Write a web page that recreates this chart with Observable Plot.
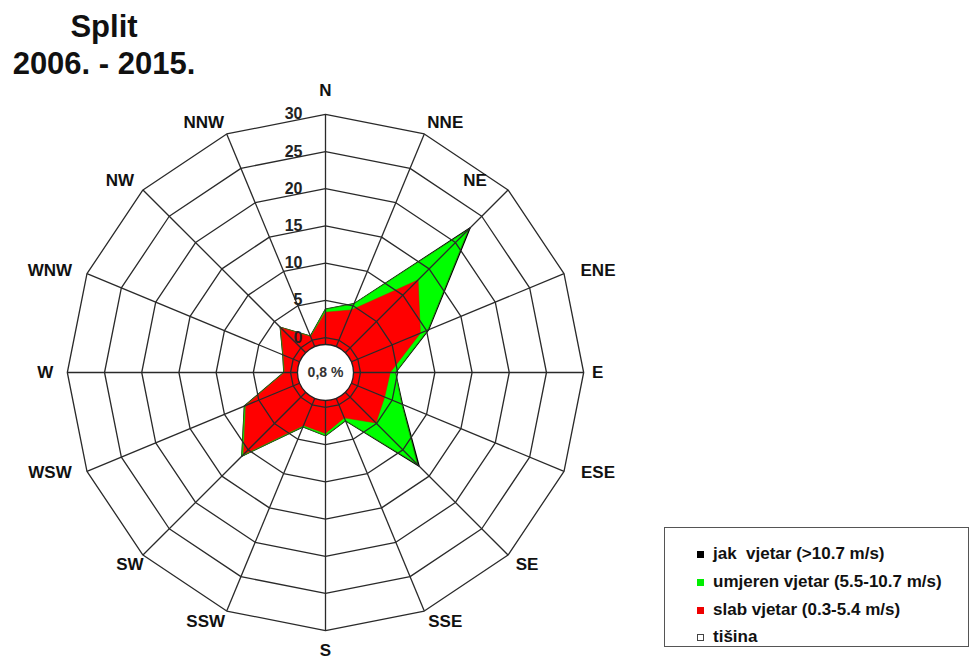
<!DOCTYPE html>
<html><head><meta charset="utf-8">
<script src="https://cdn.jsdelivr.net/npm/d3@7"></script>
<script src="https://cdn.jsdelivr.net/npm/@observablehq/plot@0.6"></script>
<style>
body{margin:0;background:#fff;font-family:"Liberation Sans",Arial,sans-serif;}
#wrap{position:relative;width:972px;height:660px;overflow:hidden;}
#title{position:absolute;left:0;top:8px;width:208px;text-align:center;font-weight:bold;font-size:31px;line-height:37px;color:#111;}
#legend{position:absolute;left:664px;top:527px;width:305px;height:120px;border:1px solid #555;box-sizing:border-box;background:#fff;}
.row{position:absolute;left:0;height:20px;line-height:20px;font-weight:bold;font-size:17px;color:#111;white-space:pre;}
.sw{position:absolute;left:32px;top:7px;width:7px;height:7px;box-sizing:border-box;}
.lbl{position:absolute;left:48px;top:0;}
</style></head><body>
<div id="wrap"><div id="chart"></div>
<div id="title">Split<br>2006. - 2015.</div>
<div id="legend"></div>
</div>
<script>
// ---- data ----
const directions = ["N","NNE","NE","ENE","E","ESE","SE","SSE","S","SSW","SW","WSW","W","WNW","NW","NNW"];
const slab    = [3.4, 4.4, 12.9, 9.1, 4.0, 3.9, 4.9, 1.9, 3.5, 3.0, 10.9, 6.9, 0.8, 1.4, 3.8, 0.5];
const umjeren = [0.4, 0.9, 9.6, 1.1, 0.7, 2.5, 7.9, 0.4, 0.3, 0.2, 0.3, 0.2, 0.1, 0.1, 0.1, 0.1];
const jak     = [0.0, 0.0, 0.3, 0.1, 0.0, 0.1, 0.3, 0.0, 0.0, 0.0, 0.0, 0.0, 0.0, 0.0, 0.0, 0.0];
const ringLevels = [0, 5, 10, 15, 20, 25, 30];
const calmLabel = "0,8 %";
const legendItems = [
  {label: "jak  vjetar (>10.7 m/s)", color: "#000000"},
  {label: "umjeren vjetar (5.5-10.7 m/s)", color: "#00ee00"},
  {label: "slab vjetar (0.3-5.4 m/s)", color: "#ee0000"},
  {label: "tišina", color: "none"}
];

// ---- layout ----
const W = 972, H = 660, CX = 325, CY = 372;
const K = 7.44;     // px per percent
const R0 = 4.7;     // offset of ring 0 from centre (percent units)
const RMAX = 30;
// pixel nudges of direction labels from the outer spoke ends
const labelNudge = [[0,-24],[21,-11],[-33,-9],[34,-3],[14,0],[34,1],[19,9],[21,11],
                    [0,20],[-21,11],[-13,9],[-37,1],[-22,0],[-37,-3],[-23,-9],[-23,-11]];

const ang = i => i * Math.PI / 8;
const px = (i, v) => Math.sin(ang(i)) * (R0 + v);
const py = (i, v) => Math.cos(ang(i)) * (R0 + v);

const c1 = slab;
const c2 = slab.map((d, i) => d + umjeren[i]);
const c3 = c2.map((d, i) => d + jak[i]);
const poly = vals => vals.map((v, i) => ({x: px(i, v), y: py(i, v)}));

const ringData = ringLevels.flatMap(level => directions.map((d, i) => ({level, x: px(i, level), y: py(i, level)})));

const font = "Liberation Sans, Arial, sans-serif";

const chart = Plot.plot({
  width: W, height: H, margin: 0,
  x: {type: "linear", domain: [-CX / K, (W - CX) / K], range: [0, W], axis: null},
  y: {type: "linear", domain: [-(H - CY) / K, CY / K], range: [H, 0], axis: null},
  style: {fontFamily: font, background: "white"},
  marks: [
    Plot.line(poly(c3), {x: "x", y: "y", fill: "#000", stroke: "#000", strokeWidth: 1.3, curve: "linear-closed"}),
    Plot.line(poly(c2), {x: "x", y: "y", fill: "#00ff00", stroke: "#2a8a10", strokeWidth: 0.8, curve: "linear-closed"}),
    Plot.line(poly(c1), {x: "x", y: "y", fill: "#ff0000", stroke: "#e00000", strokeWidth: 0.5, curve: "linear-closed"}),
    Plot.line(ringData, {x: "x", y: "y", z: "level", stroke: "#2a2a2a", strokeWidth: 1.3, curve: "linear-closed"}),
    Plot.link(directions, {x1: 0, y1: 0, x2: (d, i) => px(i, RMAX), y2: (d, i) => py(i, RMAX), stroke: "#2a2a2a", strokeWidth: 1.3}),
    Plot.dot([calmLabel], {x: 0, y: 0, r: 28, fill: "white", stroke: "#222", strokeWidth: 1.3}),
    Plot.text([calmLabel], {x: 0, y: 0, text: d => d, fontSize: 14, fontWeight: "bold", fill: "#333"}),
    Plot.text(ringLevels, {x: 0, y: d => R0 + d, text: d => String(d), dx: -23, textAnchor: "end", fontSize: 16, fontWeight: "bold", fill: "#222"}),
    Plot.text(directions, {
      x: (d, i) => px(i, RMAX) + labelNudge[i][0] / K,
      y: (d, i) => py(i, RMAX) - labelNudge[i][1] / K,
      text: d => d, fontSize: 17, fontWeight: "bold", fill: "#111"
    })
  ]
});
document.getElementById("chart").appendChild(chart);

const leg = document.getElementById("legend");
const rowTops = [16, 44, 72, 99];
legendItems.forEach((it, k) => {
  const row = document.createElement("div");
  row.className = "row";
  row.style.top = rowTops[k] + "px";
  const sw = document.createElement("div");
  sw.className = "sw";
  if (it.color === "none") { sw.style.border = "1px solid #444"; sw.style.background = "#fff"; }
  else sw.style.background = it.color;
  const tx = document.createElement("div");
  tx.className = "lbl";
  tx.textContent = it.label;
  row.appendChild(sw); row.appendChild(tx);
  leg.appendChild(row);
});
</script>
</body></html>
